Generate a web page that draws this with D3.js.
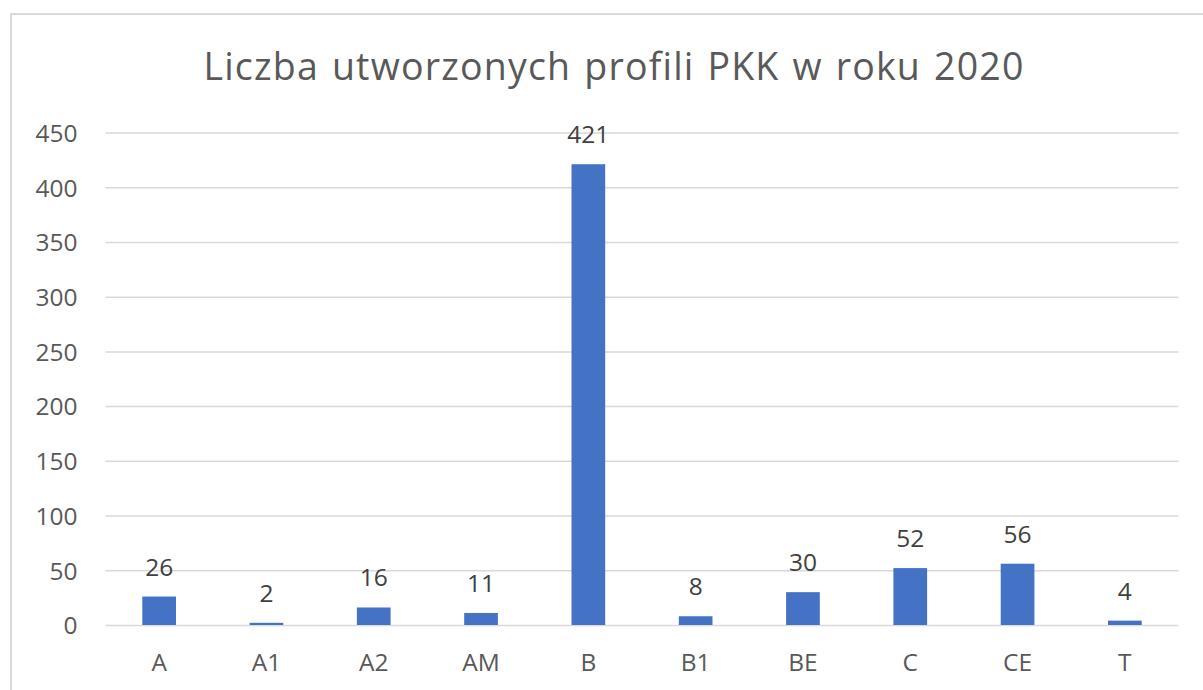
<!DOCTYPE html>
<html><head><meta charset="utf-8">
<script src="https://cdn.jsdelivr.net/npm/d3@7"></script>
<style>
html,body{margin:0;padding:0;background:#fff;}
svg{display:block;font-family:"Open Sans",sans-serif;}
</style></head>
<body>
<svg id="c" width="1203" height="690"></svg>
<script>
const title = "Liczba utworzonych profili PKK w roku 2020";
const categories = ["A","A1","A2","AM","B","B1","BE","C","CE","T"];
const values = [26,2,16,11,421,8,30,52,56,4];
const yTicks = [0,50,100,150,200,250,300,350,400,450];

const svg = d3.select("#c");
const plotLeft = 105.5, plotRight = 1178.5, plotTop = 132.5, plotBottom = 625;

svg.append("rect").attr("x",11).attr("y",14).attr("width",1210).attr("height",700)
  .attr("fill","#fff").attr("stroke","#d9d9d9").attr("stroke-width",2);

const x = d3.scaleBand().domain(categories).range([plotLeft,plotRight]).paddingInner(0.686).paddingOuter(0.343);
const y = d3.scaleLinear().domain([0,450]).range([plotBottom,plotTop]);

const yAxis = d3.axisLeft(y).tickValues(yTicks).tickSize(-(plotRight-plotLeft)).tickPadding(28);
const gy = svg.append("g").attr("transform",`translate(${plotLeft},0)`).call(yAxis);
gy.select(".domain").remove();
gy.selectAll(".tick line").attr("stroke","#d9d9d9").attr("stroke-width",1.5);
gy.selectAll(".tick text").attr("fill","#595959").attr("font-size",24.5).attr("dy","0.36em")
  .attr("font-family","'Open Sans',sans-serif");

const xAxis = d3.axisBottom(x).tickSize(0).tickPadding(29);
const gx = svg.append("g").attr("transform",`translate(0,${plotBottom})`).call(xAxis);
gx.select(".domain").remove();
gx.selectAll(".tick text").attr("fill","#595959").attr("font-size",24.5)
  .attr("font-family","'Open Sans',sans-serif");

svg.append("g").selectAll("rect").data(values).join("rect")
  .attr("x",(d,i)=>x(categories[i]))
  .attr("width",x.bandwidth())
  .attr("y",d=>y(d))
  .attr("height",d=>y(0)-y(d))
  .attr("fill","#4472C4");

svg.append("g").selectAll("text").data(values).join("text")
  .attr("x",(d,i)=>x(categories[i])+x.bandwidth()/2)
  .attr("y",d=>y(d)-21)
  .attr("text-anchor","middle")
  .attr("font-size",24.5)
  .attr("fill","#404040")
  .text(d=>d);

svg.append("text").attr("x",614).attr("y",80).attr("text-anchor","middle")
  .attr("font-size",37.5).attr("letter-spacing",1.2).attr("word-spacing",2)
  .attr("fill","#595959").text(title);
</script>
</body></html>
